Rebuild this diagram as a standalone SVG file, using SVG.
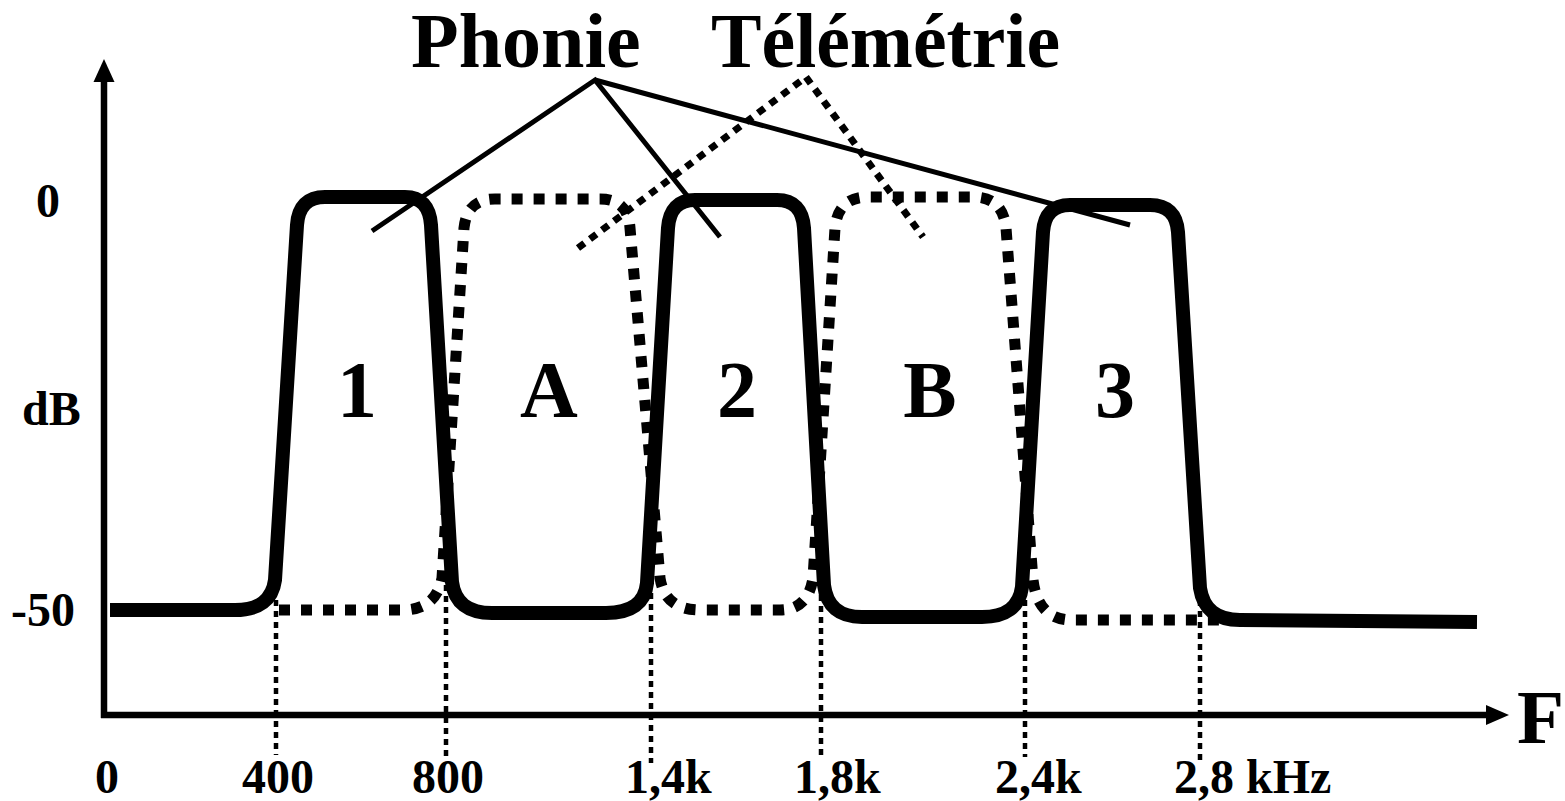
<svg xmlns="http://www.w3.org/2000/svg" width="1565" height="801" viewBox="0 0 1565 801">
  <style>
    .lbl { font-family: "Liberation Serif", "Times New Roman", serif; font-weight: bold; fill: #000; }
    .axis { stroke: #000; stroke-width: 6.5; fill: none; }
    .proj { stroke: #000; stroke-width: 4.5; stroke-dasharray: 6 5; fill: none; }
    .phonie { stroke: #000; stroke-width: 14; fill: none; stroke-linejoin: round; }
    .telem { stroke: #000; stroke-width: 11; fill: none; stroke-dasharray: 11 11; }
    .lead { stroke: #000; stroke-width: 5; fill: none; }
    .lead-dot { stroke: #000; stroke-width: 7; fill: none; stroke-dasharray: 8 7; }
  </style>
  <rect width="1565" height="801" fill="#fff"/>

  <!-- axes -->
  <g id="axes">
    <line class="axis" x1="104" y1="80" x2="104" y2="718"/>
    <polygon points="104,59 93.5,82 114.5,82" fill="#000"/>
    <line class="axis" x1="101" y1="715" x2="1488" y2="715"/>
    <polygon points="1509,715 1486,705 1486,725" fill="#000"/>
  </g>

  <!-- frequency projection lines -->
  <g id="projections">
    <line class="proj" x1="276" y1="600" x2="276" y2="755"/>
    <line class="proj" x1="446" y1="585" x2="446" y2="757"/>
    <line class="proj" x1="651" y1="593" x2="651" y2="763"/>
    <line class="proj" x1="821" y1="595" x2="821" y2="758"/>
    <line class="proj" x1="1025" y1="600" x2="1025" y2="757"/>
    <line class="proj" x1="1200" y1="600" x2="1200" y2="760"/>
  </g>

  <!-- telemetry channels A and B -->
  <g id="telemetry-curve">
    <path class="telem" d="M 279 610 L 402 610 Q 436 610 442 578 L 464 228 Q 467 199 495 199 L 600 199 Q 628 199 630 228 L 660 578 Q 665 610 700 610 L 780 610 Q 808 610 813 578 L 835 228 Q 838 197 868 197 L 973 197 Q 1003 197 1006 228 L 1033 580 Q 1038 620 1072 620 L 1232 620"/>
  </g>

  <!-- voice channels 1, 2, 3 -->
  <g id="phonie-curve">
    <path class="phonie" d="M 110 610 L 235 610 Q 271 610 275 580 L 297 225 Q 299 197 325 197 L 405 197 Q 429 197 431 225 L 452 582 Q 456 613 492 613 L 606 613 Q 644 613 647 583 L 668 228 Q 670 200 695 200 L 777 200 Q 802 200 804 228 L 824 585 Q 828 617 862 617 L 982 617 Q 1018 617 1022 587 L 1043 232 Q 1045 205 1070 205 L 1150 205 Q 1176 205 1178 232 L 1200 588 Q 1205 620 1240 620 L 1477 622"/>
  </g>

  <!-- leader lines from the titles -->
  <g id="connectors">
    <polyline class="lead" points="372,231 595,80 720,237"/>
    <line class="lead" x1="595" y1="80" x2="1130" y2="225"/>
    <polyline class="lead-dot" points="578,248 806,77 923,237"/>
  </g>

  <!-- titles -->
  <g id="titles">
    <text class="lbl" x="411" y="67" font-size="78">Phonie</text>
    <text class="lbl" x="711" y="67" font-size="78" textLength="349" lengthAdjust="spacingAndGlyphs">Télémétrie</text>
  </g>

  <!-- channel labels -->
  <g id="channels" font-size="80">
    <text class="lbl" x="357" y="417" text-anchor="middle">1</text>
    <text class="lbl" x="549" y="417" text-anchor="middle">A</text>
    <text class="lbl" x="737" y="417" text-anchor="middle">2</text>
    <text class="lbl" x="930" y="417" text-anchor="middle">B</text>
    <text class="lbl" x="1115" y="417" text-anchor="middle">3</text>
  </g>

  <!-- axis labels -->
  <g id="y-labels" font-size="48">
    <text class="lbl" x="36" y="217">0</text>
    <text class="lbl" x="22" y="425">dB</text>
    <text class="lbl" x="11" y="626">-50</text>
  </g>
  <g id="x-labels" font-size="48">
    <text class="lbl" x="95" y="793">0</text>
    <text class="lbl" x="242" y="793">400</text>
    <text class="lbl" x="412" y="793">800</text>
    <text class="lbl" x="625" y="793">1,4k</text>
    <text class="lbl" x="794" y="793">1,8k</text>
    <text class="lbl" x="995" y="793">2,4k</text>
    <text class="lbl" x="1174" y="793">2,8 kHz</text>
  </g>
  <text class="lbl" x="1517" y="743" font-size="77">F</text>
</svg>
